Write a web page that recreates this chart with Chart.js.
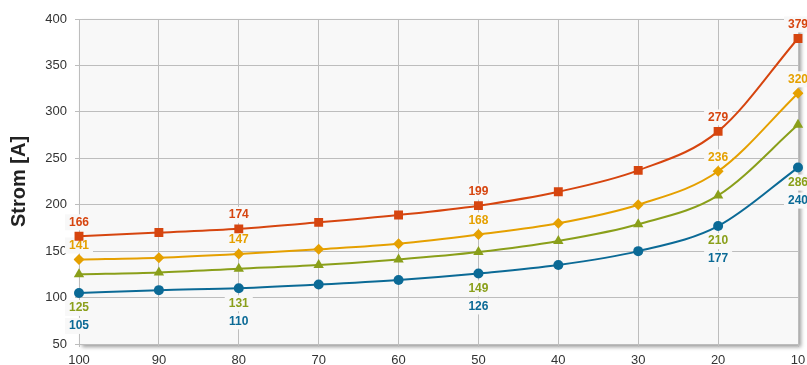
<!DOCTYPE html>
<html lang="de">
<head>
  <meta charset="UTF-8" />
  <title>Strom</title>
  <script src="https://cdn.jsdelivr.net/npm/chart.js"></script>
  <style>
    html, body { margin: 0; padding: 0; background: #fff; }
    #wrap { width: 807px; height: 365px; }
  </style>
</head>
<body>
  <div id="wrap"><canvas id="chart"></canvas></div>
  <script>
    // x-Achse (Kategorien)
    const kategorien = ['100', '90', '80', '70', '60', '50', '40', '30', '20', '10'];

    // Messreihen
    const reiheRot    = [166, 170, 174, 181, 189, 199, 214, 237, 279, 379];
    const reiheOrange = [141, 143, 147, 152, 158, 168, 180, 200, 236, 320];
    const reiheGruen  = [125, 127, 131, 135, 141, 149, 161, 179, 210, 286];
    const reiheBlau   = [105, 108, 110, 114, 119, 126, 135, 150, 177, 240];

    // Punkte mit Beschriftung
    const beschriftet = [0, 2, 5, 8, 9];

    const yTicks = [50, 100, 150, 200, 250, 300, 350, 400];

    const plotHintergrund = {
      id: 'plotHintergrund',
      beforeDraw(chart) {
        const { ctx, chartArea: a } = chart;
        ctx.save();
        ctx.shadowColor = 'rgba(0,0,0,0.4)';
        ctx.shadowBlur = 4;
        ctx.shadowOffsetX = 3;
        ctx.shadowOffsetY = 3;
        ctx.fillStyle = '#f8f8f8';
        ctx.fillRect(a.left, a.top, a.right - a.left, a.bottom - a.top);
        ctx.restore();
      }
    };

    // Wertbeschriftungen unter den Linien zeichnen
    const wertLabels = {
      id: 'wertLabels',
      beforeDatasetsDraw(chart) {
        const ctx = chart.ctx;
        ctx.save();
        ctx.font = 'bold 12px "Liberation Sans", Arial, sans-serif';
        ctx.textAlign = 'center';
        ctx.textBaseline = 'middle';
        const blau = chart.getDatasetMeta(3);
        chart.data.datasets.forEach((ds, di) => {
          const meta = chart.getDatasetMeta(di);
          beschriftet.forEach(i => {
            const p = meta.data[i];
            let y;
            if (ds.lage === 'oben') y = p.y - 14;
            else if (ds.lage === 'unten') y = p.y + 33;
            else y = blau.data[i].y + 33 - 18;
            const txt = String(ds.data[i]);
            const w = ctx.measureText(txt).width;
            ctx.fillStyle = '#f8f8f8';
            ctx.fillRect(p.x - w / 2 - 4, y - 8, w + 8, 16);
            ctx.fillStyle = ds.borderColor;
            ctx.fillText(txt, p.x, y);
          });
        });
        ctx.restore();
      }
    };

    function reihe(data, farbe, form, radius, lage) {
      return {
        data,
        borderColor: farbe,
        backgroundColor: farbe,
        pointBackgroundColor: farbe,
        pointBorderColor: farbe,
        pointStyle: form,
        pointRadius: radius,
        pointBorderWidth: 0,
        borderWidth: 2,
        cubicInterpolationMode: 'monotone',
        lage
      };
    }

    new Chart(document.getElementById('chart'), {
      type: 'line',
      data: {
        labels: kategorien,
        datasets: [
          reihe(reiheRot, '#d6450f', 'rect', 6.3, 'oben'),
          reihe(reiheOrange, '#e5a000', 'rectRot', 5.5, 'oben'),
          reihe(reiheGruen, '#8a9f1a', 'triangle', 6, 'ueberBlau'),
          reihe(reiheBlau, '#0b6a96', 'circle', 5, 'unten')
        ]
      },
      options: {
        responsive: true,
        maintainAspectRatio: false,
        animation: false,
        layout: { padding: { top: 19, right: 9, left: 0, bottom: 0 } },
        plugins: { legend: { display: false }, tooltip: { enabled: false } },
        scales: {
          x: {
            grid: { color: '#bdbdbd', tickLength: 3, drawTicks: true },
            border: { color: '#bdbdbd' },
            ticks: {
              color: '#333',
              font: { size: 13, family: '"Liberation Sans", Arial, sans-serif' },
              maxRotation: 0,
              autoSkip: false,
              padding: 6
            },
            afterFit(s) { s.height = 21; s.paddingLeft = 0; s.paddingRight = 0; }
          },
          y: {
            min: 50,
            max: 400,
            afterBuildTicks(s) { s.ticks = yTicks.map(v => ({ value: v })); },
            grid: { color: '#bdbdbd', tickLength: 4 },
            border: { color: '#bdbdbd' },
            ticks: {
              color: '#333',
              font: { size: 13, family: '"Liberation Sans", Arial, sans-serif' },
              padding: 8
            },
            title: {
              display: true,
              text: 'Strom [A]',
              color: '#222',
              font: { size: 20, weight: 'bold', family: '"Liberation Sans", Arial, sans-serif' },
              padding: { top: 7, bottom: 0 }
            },
            afterFit(s) { s.width = 79; }
          }
        }
      },
      plugins: [plotHintergrund, wertLabels]
    });
  </script>
</body>
</html>
